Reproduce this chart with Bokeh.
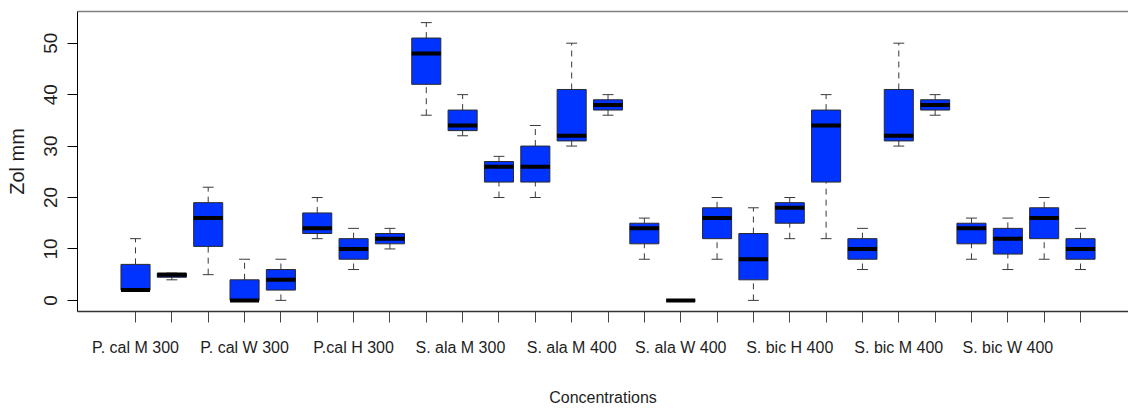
from bokeh.plotting import figure
from bokeh.models import ColumnDataSource, FixedTicker, LinearAxis, Range1d
from bokeh.embed import file_html
from bokeh.resources import INLINE

# ---- data ----
group_labels = ["P. cal M 300", "P. cal W 300", "P.cal H 300", "S. ala  M 300",
                "S. ala M 400", "S. ala W 400", "S. bic H 400", "S. bic M 400",
                "S. bic W 400"]
label_every = 3
mins    = [2, 4, 5, 0, 0, 12, 6, 10, 36, 32, 20, 20, 30, 36, 8, 0, 8, 0, 12, 12, 6, 30, 36, 8, 6, 8, 6]
q1s     = [2, 4.5, 10.5, 0, 2, 13, 8, 11, 42, 33, 23, 23, 31, 37, 11, 0, 12, 4, 15, 23, 8, 31, 37, 11, 9, 12, 8]
medians = [2, 5, 16, 0, 4, 14, 10, 12, 48, 34, 26, 26, 32, 38, 14, 0, 16, 8, 18, 34, 10, 32, 38, 14, 12, 16, 10]
q3s     = [7, 5.3, 19, 4, 6, 17, 12, 13, 51, 37, 27, 30, 41, 39, 15, 0, 18, 13, 19, 37, 12, 41, 39, 15, 14, 18, 12]
maxs    = [12, 5.3, 22, 8, 8, 20, 14, 14, 54, 40, 28, 34, 50, 40, 16, 0, 20, 18, 20, 40, 14, 50, 40, 16, 16, 20, 14]
y_ticks = [0, 10, 20, 30, 40, 50]

n = len(medians)
pos = list(range(1, n + 1))
box_w = 0.8
cap_w = 0.3

src = ColumnDataSource(dict(
    x=pos, lo=mins, q1=q1s, med=medians, q3=q3s, hi=maxs,
    bx0=[p_ - box_w / 2 for p_ in pos], bx1=[p_ + box_w / 2 for p_ in pos],
    cx0=[p_ - cap_w / 2 for p_ in pos], cx1=[p_ + cap_w / 2 for p_ in pos],
))

ymin, ymax = 0, max(maxs)
pad = 0.04 * (ymax - ymin)

p = figure(width=1128, height=409, output_backend="svg", toolbar_location=None,
           x_range=Range1d(-0.596, 28.32), y_range=Range1d(ymin - pad, ymax + pad),
           x_axis_location=None, y_axis_location=None,
           min_border_left=77, min_border_top=11, min_border_bottom=98, min_border_right=0)
p.outline_line_color = None
p.xgrid.visible = False
p.ygrid.visible = False
p.background_fill_color = "white"
p.border_fill_color = "white"

TXT = "#1e1e1e"
WH = "#3a3a3a"

# whiskers
p.segment(x0="x", y0="q3", x1="x", y1="hi", source=src, line_color=WH,
          line_width=1, line_dash="6 5")
p.segment(x0="x", y0="lo", x1="x", y1="q1", source=src, line_color=WH,
          line_width=1, line_dash="6 5")
# staples
p.segment(x0="cx0", y0="hi", x1="cx1", y1="hi", source=src, line_color=WH, line_width=1)
p.segment(x0="cx0", y0="lo", x1="cx1", y1="lo", source=src, line_color=WH, line_width=1)
# boxes
p.vbar(x="x", width=box_w, top="q3", bottom="q1", source=src,
       fill_color="#0033ff", line_color="#2a2a2a", line_width=1)
# medians
p.segment(x0="bx0", y0="med", x1="bx1", y1="med", source=src, line_color="black",
          line_width=4, line_cap="butt")

# left axis
ya = LinearAxis(ticker=FixedTicker(ticks=y_ticks), axis_label="Zol mm")
ya.axis_line_color = "black"
ya.major_tick_line_color = "black"
ya.major_tick_out = 10
ya.major_tick_in = 0
ya.minor_tick_line_color = None
ya.major_label_orientation = "vertical"
ya.major_label_standoff = 10
ya.major_label_text_font = "Liberation Sans"
ya.major_label_text_font_size = "19px"
ya.major_label_text_color = TXT
ya.axis_label_text_font = "Liberation Sans"
ya.axis_label_text_font_size = "20px"
ya.axis_label_text_font_style = "normal"
ya.axis_label_text_color = TXT
ya.axis_label_standoff = 14
p.add_layout(ya, "left")

# bottom axis
overrides = {}
for i in pos:
    if (i - 1) % label_every == 0:
        overrides[i] = group_labels[(i - 1) // label_every]
    else:
        overrides[i] = ""
xa = LinearAxis(ticker=FixedTicker(ticks=pos), axis_label="Concentrations")
xa.major_label_overrides = overrides
xa.axis_line_color = "#333333"
xa.axis_line_width = 1.5
xa.major_tick_line_color = "#444444"
xa.major_tick_out = 11
xa.major_tick_in = 0
xa.minor_tick_line_color = None
xa.major_label_standoff = 16
xa.major_label_text_font = "Liberation Sans"
xa.major_label_text_font_size = "16px"
xa.major_label_text_color = TXT
xa.axis_label_text_font = "Liberation Sans"
xa.axis_label_text_font_size = "16px"
xa.axis_label_text_font_style = "normal"
xa.axis_label_text_color = TXT
xa.axis_label_standoff = 30
p.add_layout(xa, "below")

# top frame line
ta = LinearAxis(ticker=FixedTicker(ticks=[]))
ta.axis_line_color = "#808080"
ta.axis_line_width = 1.5
ta.major_tick_out = 0
ta.major_tick_in = 0
ta.minor_tick_line_color = None
ta.major_label_standoff = 0
ta.major_label_text_font_size = "0px"
ta.axis_label_standoff = 0
p.add_layout(ta, "above")

open("out.html", "w").write(file_html(p, INLINE))
